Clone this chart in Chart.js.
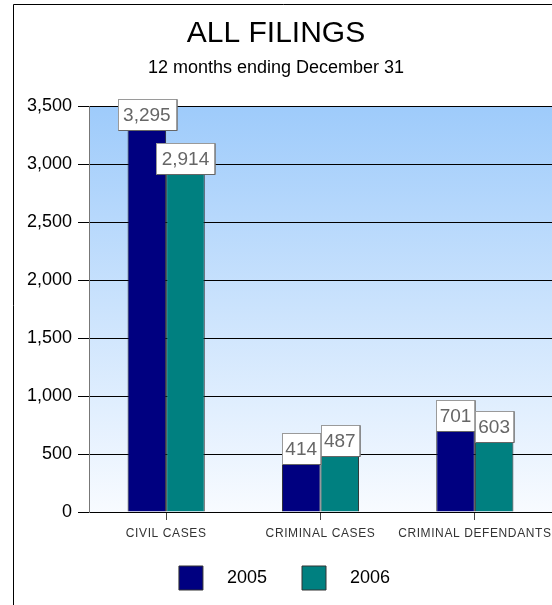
<!DOCTYPE html>
<html>
<head>
<meta charset="utf-8">
<script src="https://cdn.jsdelivr.net/npm/chart.js@4.4.1/dist/chart.umd.min.js"></script>
<style>
  html, body { margin: 0; padding: 0; background: #ffffff; }
  #wrap { width: 552px; height: 605px; position: relative; }
</style>
</head>
<body>
<div id="wrap"><canvas id="c" width="552" height="605"></canvas></div>
<script>
const titleText = 'ALL FILINGS';
const subtitleText = '12 months ending December 31';
const categories = ['CIVIL CASES', 'CRIMINAL CASES', 'CRIMINAL DEFENDANTS'];
const seriesNames = ['2005', '2006'];
const values2005 = [3295, 414, 701];
const values2006 = [2914, 487, 603];
const yMin = 0;
const yMax = 3500;
const yStep = 500;

const FONT = "'Liberation Sans', Arial, Helvetica, sans-serif";
Chart.defaults.font.family = FONT;

const backgroundPlugin = {
  id: 'bg',
  beforeDraw(chart) {
    const { ctx, chartArea: a } = chart;
    ctx.save();
    const g = ctx.createLinearGradient(0, a.top, 0, a.bottom);
    g.addColorStop(0, '#9ecbfb');
    g.addColorStop(1, '#f8fbff');
    ctx.fillStyle = g;
    ctx.fillRect(a.left, a.top, chart.width - a.left, a.bottom - a.top);
    ctx.restore();
  }
};

const spacingPlugin = {
  id: 'xLabelSpacing',
  afterLayout(chart) {
    const sc = chart.scales.x;
    if (sc && !sc._spacedLabels) {
      const orig = sc.drawLabels;
      sc.drawLabels = function (area) {
        const ctx = this.ctx;
        ctx.save();
        ctx.letterSpacing = '0.6px';
        orig.call(this, area);
        ctx.restore();
      };
      sc._spacedLabels = true;
    }
  }
};

const framePlugin = {
  id: 'frame',
  afterDraw(chart) {
    const { ctx } = chart;
    ctx.save();
    ctx.strokeStyle = '#000';
    ctx.lineWidth = 1;
    ctx.beginPath();
    ctx.moveTo(13.5, chart.height + 2);
    ctx.lineTo(13.5, 4.5);
    ctx.lineTo(chart.width + 2, 4.5);
    ctx.stroke();
    ctx.fillStyle = '#000';
    ctx.textAlign = 'center';
    ctx.textBaseline = 'middle';
    ctx.font = '30px ' + FONT;
    ctx.fillText(titleText, chart.width / 2, 34);
    ctx.font = '18px ' + FONT;
    ctx.fillText(subtitleText, chart.width / 2, 68);
    ctx.restore();
  }
};

const valueBoxPlugin = {
  id: 'valueBoxes',
  afterDatasetsDraw(chart) {
    const { ctx } = chart;
    ctx.save();
    ctx.font = '19px ' + FONT;
    ctx.textAlign = 'center';
    ctx.textBaseline = 'middle';
    chart.data.datasets.forEach((ds, di) => {
      const meta = chart.getDatasetMeta(di);
      meta.data.forEach((bar, i) => {
        const v = ds.data[i];
        const txt = v.toLocaleString('en-US');
        const tw = ctx.measureText(txt).width;
        const bw = bar.width;
        const w = tw + 11 > bw + 6 ? tw + 11 : bw;
        const h = 31;
        const left = Math.round(bar.x - w / 2) + 0.5;
        const top = Math.round(bar.y - h) + 0.5;
        ctx.fillStyle = '#ffffff';
        ctx.fillRect(left, top, w, h);
        ctx.strokeStyle = '#9a9a9a';
        ctx.lineWidth = 1;
        ctx.strokeRect(left, top, w, h);
        ctx.strokeStyle = '#666666';
        ctx.beginPath();
        ctx.moveTo(left + w, top);
        ctx.lineTo(left + w, top + h);
        ctx.lineTo(left, top + h);
        ctx.stroke();
        ctx.fillStyle = '#666666';
        ctx.fillText(txt, bar.x, top + h / 2 + 1);
      });
    });
    ctx.restore();
  }
};

new Chart(document.getElementById('c'), {
  type: 'bar',
  data: {
    labels: categories,
    datasets: [
      { label: seriesNames[0], data: values2005, backgroundColor: '#000080', borderColor: '#222222', borderWidth: 1 },
      { label: seriesNames[1], data: values2006, backgroundColor: '#008080', borderColor: '#222222', borderWidth: 1 }
    ]
  },
  options: {
    responsive: false,
    animation: false,
    devicePixelRatio: 1,
    categoryPercentage: 0.5,
    barPercentage: 1.0,
    layout: { padding: { top: 106, left: 17, right: 0, bottom: 5 } },
    plugins: {
      title: { display: false },
      tooltip: { enabled: false },
      legend: {
        display: true,
        position: 'bottom',
        labels: {
          boxWidth: 24,
          boxHeight: 24,
          padding: 10,
          color: '#000',
          font: { size: 18, family: FONT },
          generateLabels(chart) {
            const items = Chart.defaults.plugins.legend.labels.generateLabels(chart);
            items.forEach((it, i) => {
              it.text = '   ' + it.text + (i === 0 ? '     ' : '');
              it.strokeStyle = '#333333';
              it.lineWidth = 1;
            });
            return items;
          }
        }
      }
    },
    scales: {
      x: {
        offset: true,
        grid: { display: true, drawOnChartArea: false, offset: false, tickLength: 8, color: '#444444' },
        border: { display: true, color: '#000000', width: 1 },
        ticks: { color: '#333333', font: { size: 12 }, padding: 6, maxRotation: 0, autoSkip: false },
        afterFit(scale) { scale.height = 44; }
      },
      y: {
        min: yMin,
        max: yMax,
        ticks: {
          stepSize: yStep,
          color: '#000000',
          font: { size: 18 },
          padding: 6,
          callback: (v) => Number(v).toLocaleString('en-US')
        },
        grid: { color: '#000000', lineWidth: 1, tickLength: 11, drawTicks: true },
        border: { display: true, color: '#777777', width: 1 },
        afterFit(scale) { scale.width = 72; }
      }
    }
  },
  plugins: [backgroundPlugin, spacingPlugin, valueBoxPlugin, framePlugin]
});
</script>
</body>
</html>
